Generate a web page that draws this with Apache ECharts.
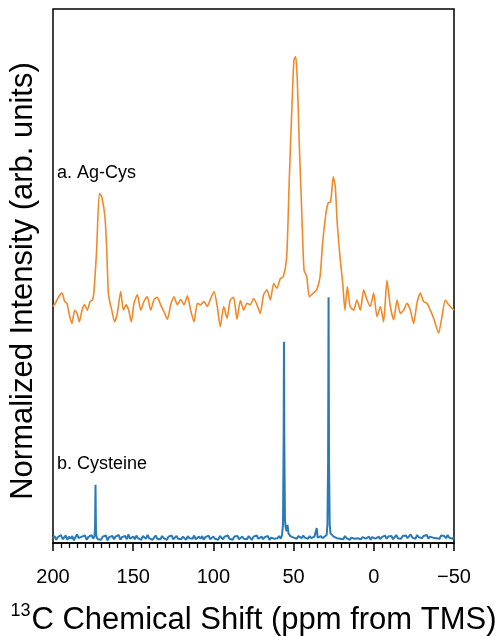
<!DOCTYPE html>
<html>
<head>
<meta charset="utf-8">
<script src="https://cdn.jsdelivr.net/npm/echarts@6/dist/echarts.min.js"></script>
<style>html,body{margin:0;padding:0;background:#fff}#c{width:501px;height:636px}</style>
</head>
<body>
<div id="c"></div>
<script>
// x ticks (ppm)
const xTicks = [200, 150, 100, 50, 0, -50];

// a. Ag-Cys (orange) : chemical shift (ppm) and intensity
const agCysPpm = [200.0,198.5,196.5,194.4,192.7,191.3,189.8,188.2,186.5,185.0,183.6,181.9,180.3,178.6,176.9,175.5,174.6,172.8,171.1,169.6,167.6,166.5,165.5,164.2,163.5,161.6,159.9,157.8,156.1,154.5,152.8,151.2,149.5,147.4,145.3,143.3,141.2,139.1,137.0,135.0,132.9,130.8,128.7,126.6,124.6,122.5,120.4,118.3,116.2,114.2,112.1,110.0,108.0,105.9,103.8,101.7,99.6,97.6,95.7,93.6,91.5,89.5,87.4,85.3,83.2,81.1,79.1,77.0,74.9,72.8,70.8,68.7,66.6,64.5,62.4,60.4,58.3,56.4,54.3,52.7,51.2,49.8,48.7,47.7,46.4,44.9,43.5,41.8,40.2,37.7,35.6,33.5,31.9,29.8,28.4,26.9,25.3,24.0,22.8,21.1,19.4,18.0,16.5,14.8,12.6,10.5,8.4,6.3,4.2,2.2,0.1,-2.0,-4.1,-6.1,-8.2,-10.3,-12.4,-14.5,-16.5,-18.6,-20.7,-22.8,-24.8,-26.9,-29.0,-31.1,-33.1,-35.2,-37.3,-40.4,-42.5,-44.6,-46.7,-50.0];
const agCysVal = [44.3,44.9,46.1,46.8,45.2,44.9,42.7,41.1,43.6,43.0,41.4,43.6,44.6,43.6,45.2,45.5,46.6,54.9,65.5,64.8,61.0,54.9,46.8,44.6,43.8,41.4,43.0,47.1,43.6,44.6,43.6,41.4,44.9,46.5,43.6,45.2,46.1,43.6,45.6,46.0,44.6,43.3,41.9,44.6,46.1,44.6,45.6,44.6,46.3,43.6,41.4,44.9,44.6,45.2,44.3,45.8,47.1,44.3,40.5,44.3,42.1,45.5,46.0,41.9,45.4,43.6,44.9,44.6,45.8,44.6,43.0,46.5,47.4,45.5,48.6,47.7,49.5,49.9,53.6,68.0,80.5,90.4,91.1,86.7,74.2,61.8,51.1,49.9,46.1,46.8,47.4,49.9,56.2,61.8,63.7,63.9,68.6,66.7,59.9,53.6,48.7,43.6,48.0,44.3,43.6,45.5,43.6,47.4,45.5,44.3,46.8,42.4,44.3,41.4,49.2,44.3,41.8,45.5,43.0,43.6,44.9,43.6,41.1,44.9,46.8,45.2,44.9,43.6,42.1,39.3,42.4,45.5,44.6,43.6];

// b. Cysteine (blue) : baseline every 1 ppm from 200 down to -50
const cysBase = [
0.9,1.3,0.6,1.1,0.8,1.5,0.7,1.0,1.4,0.6,
1.2,0.8,1.3,0.5,1.1,1.6,0.9,0.7,1.2,1.0,
1.4,0.6,1.1,0.9,1.5,0.8,1.2,1.3,0.7,1.0,
0.6,1.2,0.9,1.4,0.5,1.1,0.8,1.3,0.7,1.2,
1.0,1.5,0.6,1.1,0.9,1.3,0.7,1.6,0.8,1.0,
1.2,0.7,1.4,0.9,1.1,0.6,1.3,1.0,0.8,1.5,
0.9,1.2,0.6,1.0,1.4,0.8,1.1,0.7,1.3,0.9,
1.1,0.6,1.2,0.9,1.4,0.7,1.0,1.3,0.8,1.1,
0.7,1.2,1.0,0.6,1.3,0.9,1.1,0.8,1.4,0.7,
1.0,1.2,0.8,1.3,0.6,1.1,0.9,1.4,0.7,1.0,
1.2,0.8,1.1,0.6,1.3,1.0,0.7,1.2,0.9,1.4,
0.8,1.1,0.6,1.2,1.0,1.3,0.7,0.9,1.2,0.8,
1.1,0.7,1.3,1.0,0.6,1.2,0.9,1.4,0.8,1.0,
1.2,0.7,1.1,0.9,1.3,0.6,1.0,1.2,0.8,1.1,
0.9,1.3,0.8,1.2,1.0,1.5,1.4,1.6,1.3,1.1,
1.0,1.2,0.8,1.3,1.1,0.9,1.4,1.0,1.2,0.8,
1.3,0.9,1.1,1.2,0.8,1.4,1.0,1.3,0.9,1.2,
1.0,1.4,1.1,1.6,1.5,1.2,1.3,0.9,1.2,0.8,
1.1,0.7,1.3,0.9,1.2,0.6,1.0,1.3,0.8,1.1,
0.9,1.2,0.7,1.1,1.4,0.8,1.0,1.2,0.6,1.1,
1.3,0.8,1.0,1.2,0.7,1.1,0.9,1.4,0.8,1.2,
1.0,1.3,0.7,1.1,1.5,0.9,1.2,0.8,1.3,1.0,
1.4,0.9,1.2,1.6,1.0,1.3,0.8,1.5,1.1,1.2,
0.9,1.3,1.1,1.5,0.8,1.2,1.4,1.0,1.3,0.9,
1.2,0.8,1.4,1.1,1.3,0.9,1.5,1.0,1.2,0.8,
1.1];
// Cysteine peaks (finely sampled)
const cysPeakPpm = [174.2,173.8,173.5,173.2,172.8, 57.2,56.6,56.2,56.0,55.8,55.4,55.0,54.4,53.8,53.2, 36.2,35.6,35.0, 29.4,28.9,28.5,28.2,27.9,27.5,27.0];
const cysPeakVal = [1.2,2.5,10.9,2.0,1.1, 1.5,3.5,20.0,37.7,20.0,4.5,3.0,2.2,3.4,1.8, 1.0,2.8,1.0, 1.5,3.5,15.0,46.0,15.0,3.5,1.8];

const agCysData = agCysPpm.map((p, i) => [p, agCysVal[i]]);
let cysData = cysPeakPpm.map((p, i) => [p, cysPeakVal[i]]);
cysBase.forEach((v, i) => {
  const p = 200 - i;
  const near = cysPeakPpm.some(q => Math.abs(q - p) < 0.7);
  if (!near) cysData.push([p, v]);
});
cysData.sort((a, b) => b[0] - a[0]);

const FONT = 'Liberation Sans, Arial, Helvetica, sans-serif';
const chart = echarts.init(document.getElementById('c'));
chart.setOption({
  animation: false,
  backgroundColor: '#fff',
  textStyle: { fontFamily: FONT },
  grid: { left: 53, right: 47, top: 9, bottom: 93, outerBoundsMode: 'none', containLabel: false, show: true, borderColor: '#000', borderWidth: 1.5, backgroundColor: 'transparent' },
  xAxis: {
    type: 'value', inverse: true, min: -50, max: 200, interval: 50,
    axisLine: { show: true, lineStyle: { color: '#000', width: 1.5 } },
    axisTick: { show: true, length: 8, lineStyle: { color: '#000', width: 1.5 } },
    minorTick: { show: true, splitNumber: 10, length: 5, lineStyle: { color: '#000', width: 1.2 } },
    splitLine: { show: false },
    axisLabel: { color: '#000', fontSize: 20, margin: 24, fontFamily: FONT,
      formatter: v => xTicks.includes(v) ? String(v).replace('-', '\u2212') : '' },
    name: '{sup|13}{main|C Chemical Shift (ppm from TMS)}',
    nameLocation: 'middle', nameGap: 59,
    nameTextStyle: {
      color: '#000', fontFamily: FONT,
      rich: {
        sup: { fontSize: 18, color: '#000', fontFamily: FONT, verticalAlign: 'top', lineHeight: 36, padding: [0, 1, 14, 0] },
        main: { fontSize: 31, color: '#000', fontFamily: FONT, lineHeight: 36 }
      }
    }
  },
  yAxis: {
    type: 'value', min: 0, max: 100,
    axisLine: { show: false }, axisTick: { show: false }, axisLabel: { show: false }, splitLine: { show: false },
    name: 'Normalized Intensity (arb. units)', nameLocation: 'middle', nameGap: 14,
    nameTextStyle: { color: '#000', fontSize: 31, fontFamily: FONT, padding: [0, 10, 0, 0] }
  },
  graphic: [
    { type: 'text', left: 57, top: 164, style: { text: 'a. Ag-Cys', fontSize: 18, fill: '#000', fontFamily: FONT } },
    { type: 'text', left: 57, top: 455, style: { text: 'b. Cysteine', fontSize: 18, fill: '#000', fontFamily: FONT } }
  ],
  series: [
    { type: 'line', data: cysData, showSymbol: false, smooth: false, lineStyle: { color: '#2a7ab8', width: 2 }, z: 2 },
    { type: 'line', data: agCysData, showSymbol: false, smooth: 0.2, lineStyle: { color: '#f0892a', width: 1.6 }, z: 3 }
  ]
});
</script>
</body>
</html>
